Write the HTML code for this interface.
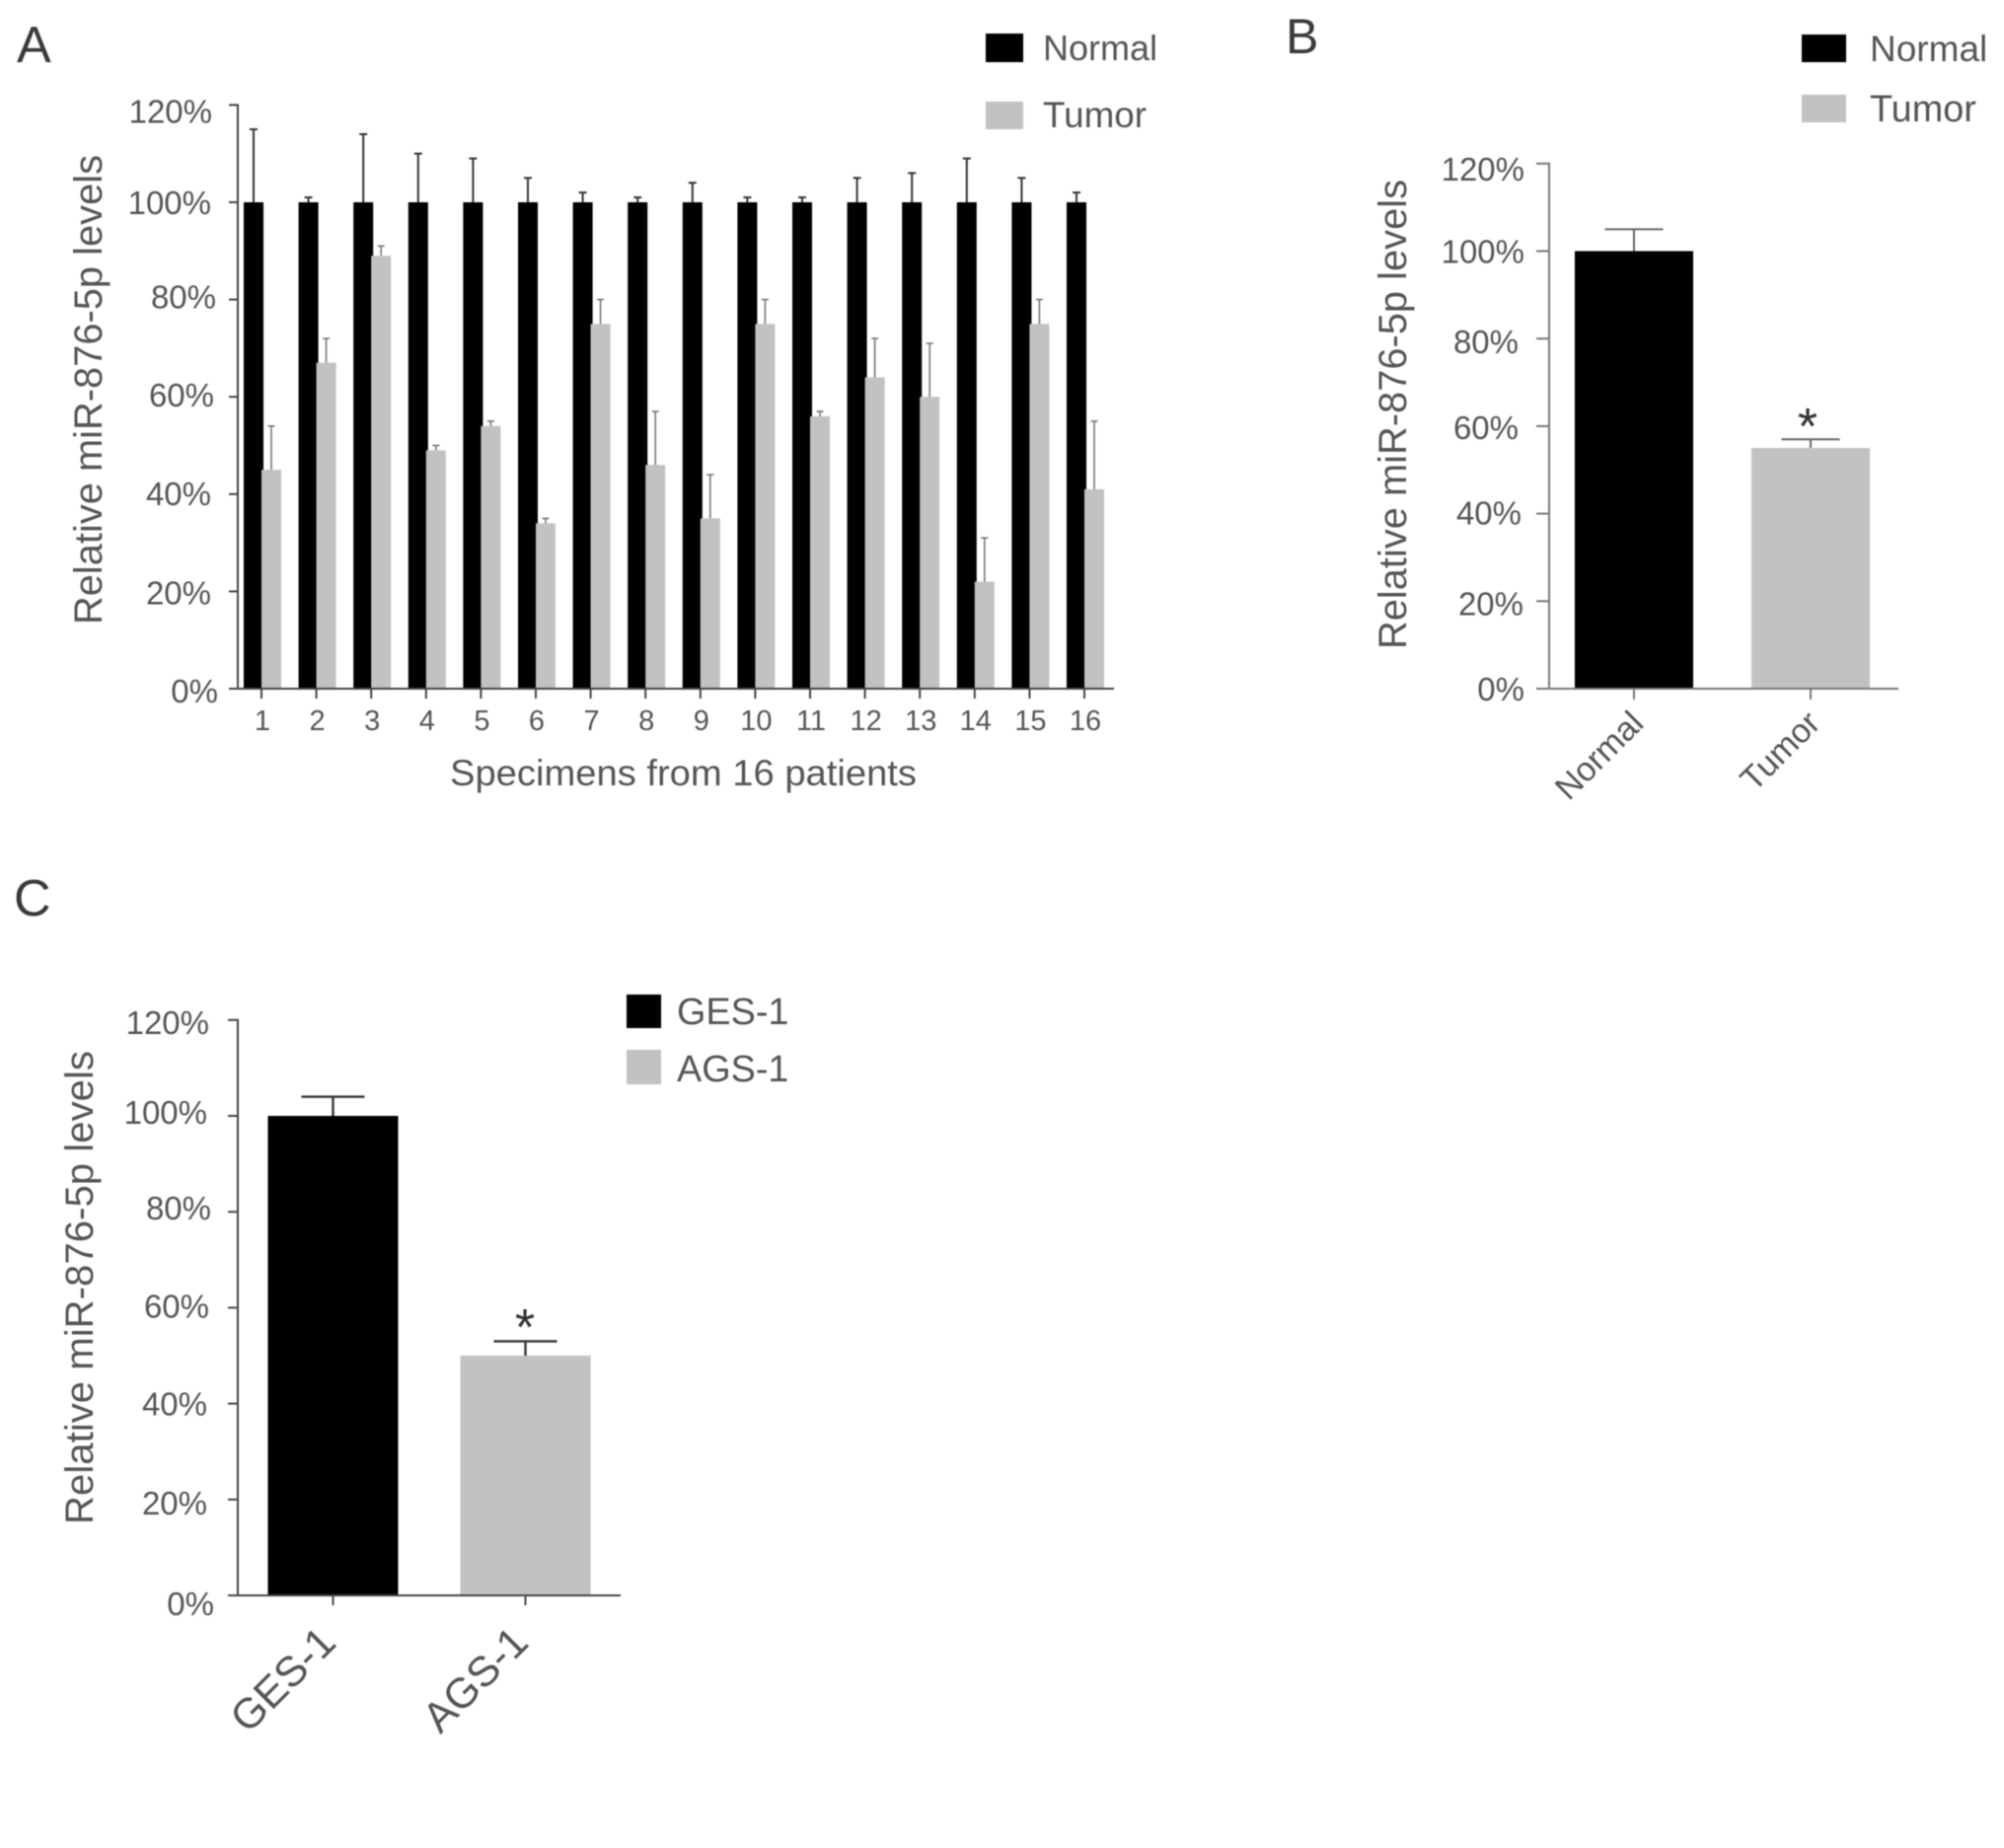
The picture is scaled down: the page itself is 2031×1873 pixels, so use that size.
<!DOCTYPE html>
<html lang="en">
<head>
<meta charset="utf-8">
<title>Relative miR-876-5p levels</title>
<style>
  html, body { margin: 0; padding: 0; background: #fff; width: 2031px; height: 1873px; overflow: hidden; }
  svg { display: block; filter: blur(0.6px); }
  text { font-family: "Liberation Sans", sans-serif; fill: #555; }
</style>
</head>
<body>
<svg id="figure" xmlns="http://www.w3.org/2000/svg" width="2031" height="1873" viewBox="0 0 2031 1873">
  <rect x="0" y="0" width="2031" height="1873" fill="#fff"/>

  <text x="17" y="63" font-size="52" style="fill:#3a3a3a">A</text>
  <text x="1303" y="54" font-size="50" style="fill:#3a3a3a">B</text>
  <text x="14" y="928" font-size="52" style="fill:#3a3a3a">C</text>

  <g id="panel-a">
    <text transform="translate(103,395) rotate(-90)" text-anchor="middle" font-size="39.8" textLength="476" lengthAdjust="spacingAndGlyphs">Relative miR-876-5p levels</text>
    <text x="456" y="796" font-size="37" textLength="473" lengthAdjust="spacingAndGlyphs">Specimens from 16 patients</text>
    <rect x="999" y="34" width="38" height="29" fill="#000"/>
    <text x="1057" y="61" font-size="36">Normal</text>
    <rect x="999" y="103" width="38" height="28" fill="#c2c2c2"/>
    <text x="1057" y="129" font-size="36.8">Tumor</text>
  </g>

  <g id="panel-b">
    <text transform="translate(1425,420) rotate(-90)" text-anchor="middle" font-size="39.8" textLength="476" lengthAdjust="spacingAndGlyphs">Relative miR-876-5p levels</text>
    <rect x="1826" y="35" width="45" height="28" fill="#000"/>
    <text x="1895" y="62" font-size="37">Normal</text>
    <rect x="1826" y="96" width="45" height="28" fill="#c2c2c2"/>
    <text x="1895" y="123" font-size="37.8">Tumor</text>
    <text x="1832" y="450" font-size="52" text-anchor="middle" style="fill:#333">*</text>
  </g>

  <g id="panel-c">
    <text transform="translate(94,1305) rotate(-90)" text-anchor="middle" font-size="40" textLength="480" lengthAdjust="spacingAndGlyphs">Relative miR-876-5p levels</text>
    <rect x="635" y="1008" width="35" height="34" fill="#000"/>
    <text x="686" y="1038" font-size="37.8">GES-1</text>
    <rect x="635" y="1064" width="35" height="35" fill="#c2c2c2"/>
    <text x="686" y="1096" font-size="37.8">AGS-1</text>
    <text x="532" y="1363" font-size="52" text-anchor="middle" style="fill:#333">*</text>
  </g>
</svg>

<script>
// Shared y-axis ticks
const yTickValues = [0, 20, 40, 60, 80, 100, 120];
const yTickLabels = ["0%", "20%", "40%", "60%", "80%", "100%", "120%"];

// Panel A
const aCategories = ["1","2","3","4","5","6","7","8","9","10","11","12","13","14","15","16"];
const aNormal = [100,100,100,100,100,100,100,100,100,100,100,100,100,100,100,100];
const aNormalErrTop = [115,101,114,110,109,105,102,101,104,101,101,105,106,109,105,102];
const aTumor = [45,67,89,49,54,34,75,46,35,75,56,64,60,22,75,41];
const aTumorErrTop = [54,72,91,50,55,35,80,57,44,80,57,72,71,31,80,55];

// Panel B
const bCategories = ["Normal", "Tumor"];
const bValues = [100, 55];
const bErrTop = [105, 57];

// Panel C
const cCategories = ["GES-1", "AGS-1"];
const cValues = [100, 50];
const cErrTop = [104, 53];

const NS = "http://www.w3.org/2000/svg";

function mk(parent, tag, attrs, content) {
  const el = document.createElementNS(NS, tag);
  for (const k in attrs) el.setAttribute(k, attrs[k]);
  if (content !== undefined) el.textContent = content;
  parent.appendChild(el);
  return el;
}

function drawAxes(g, cfg) {
  const yLine = mk(g, "line", { x1: cfg.axisX, x2: cfg.axisX, y1: cfg.y(120) - 1, y2: cfg.y(0) + 1, stroke: cfg.axisColor, "stroke-width": 2 });
  
  
  const xLine = mk(g, "line", { x1: cfg.tickLeft, x2: cfg.axisEnd, y1: cfg.y(0), y2: cfg.y(0), stroke: cfg.axisColor, "stroke-width": 2 });
  
  
  yTickValues.forEach(function (v, i) {
    const tick = mk(g, "line", { x1: cfg.tickLeft, x2: cfg.axisX, y1: cfg.y(v), y2: cfg.y(v), stroke: cfg.axisColor, "stroke-width": 2 });
    
    
    const label = mk(g, "text", { x: cfg.labelRight(i), y: cfg.y(v) + cfg.labelDy(i), "text-anchor": "end", "font-size": 33 }, yTickLabels[i]);
    
    
  });
}

function drawErr(g, cx, top, base, capW, color, width) {
  const stem = mk(g, "line", { x1: cx, x2: cx, y1: top, y2: base, stroke: color, "stroke-width": width });
  
  
  const cap = mk(g, "line", { x1: cx - capW / 2, x2: cx + capW / 2, y1: top, y2: top, stroke: color, "stroke-width": width });
  
  
}

// Panel A drawing
(function () {
  const g = document.getElementById("panel-a");
  const y = function (v) { return 698 - v * 4.93; };
  const x = function (i) { return 265 + i * 55.6; };
  aCategories.forEach(function (cat, i) {
    const black = mk(g, "rect", { x: x(i) - 18, y: y(aNormal[i]), width: 20, height: y(0) - y(aNormal[i]), fill: "#000" });
    
    
    drawErr(g, x(i) - 8, y(aNormalErrTop[i]), y(aNormal[i]), 8, "#333", 2);
    const gray = mk(g, "rect", { x: x(i), y: y(aTumor[i]), width: 20, height: y(0) - y(aTumor[i]), fill: "#c2c2c2" });
    
    
    drawErr(g, x(i) + 10, y(aTumorErrTop[i]), y(aTumor[i]), 7, "#777", 1.6);
    const tick = mk(g, "line", { x1: x(i), x2: x(i), y1: y(0), y2: 708, stroke: "#444", "stroke-width": 2 });
    
    
    const label = mk(g, "text", { x: x(i) + 1, y: 740, "text-anchor": "middle", "font-size": 29 }, cat);
    
    
  });
  const dyA = function (i) { return [14, 13, 11, 10, 9, 12, 18][i]; };
  const rightA = function (i) { return [221, 214, 214, 217, 219, 214, 215][i]; };
  drawAxes(g, { y: y, axisX: 241, tickLeft: 232, axisEnd: 1129, axisColor: "#444", labelRight: rightA, labelDy: dyA });
})();

// Panel B drawing
(function () {
  const g = document.getElementById("panel-b");
  const y = function (v) { return 698 - v * 4.435; };
  const x = function (i) { return 1656 + i * 179; };
  const fills = ["#000", "#c2c2c2"];
  bCategories.forEach(function (cat, i) {
    drawErr(g, x(i), y(bErrTop[i]), y(bValues[i]), 59, "#666", 2);
    const bar = mk(g, "rect", { x: x(i) - 60, y: y(bValues[i]), width: 120, height: y(0) - y(bValues[i]), fill: fills[i] });
    
    
    const tick = mk(g, "line", { x1: x(i), x2: x(i), y1: y(0), y2: 709, stroke: "#777", "stroke-width": 2 });
    
    
    const label = mk(g, "text", { transform: "translate(" + (x(i) + 11.5) + ",735) rotate(-45)", "text-anchor": "end", "font-size": 34 }, cat);
    
    
  });
  const dyB = function (i) { return [12, 14, 11, 13, 15, 12, 17][i]; };
  const rightB = function (i) { return [1545, 1544, 1542, 1539, 1539, 1545, 1545][i]; };
  drawAxes(g, { y: y, axisX: 1570, tickLeft: 1557, axisEnd: 1924, axisColor: "#777", labelRight: rightB, labelDy: dyB });
})();

// Panel C drawing
(function () {
  const g = document.getElementById("panel-c");
  const y = function (v) { return 1617 - v * 4.86; };
  const x = function (i) { return 337.5 + i * 195; };
  const fills = ["#000", "#c2c2c2"];
  cCategories.forEach(function (cat, i) {
    drawErr(g, x(i), y(cErrTop[i]), y(cValues[i]), 64, "#333", 2.4);
    const bar = mk(g, "rect", { x: x(i) - 66, y: y(cValues[i]), width: 132, height: y(0) - y(cValues[i]), fill: fills[i] });
    
    
    const tick = mk(g, "line", { x1: x(i), x2: x(i), y1: y(0), y2: 1627, stroke: "#444", "stroke-width": 2 });
    
    
    const label = mk(g, "text", { transform: "translate(" + (x(i) + 5) + ",1667) rotate(-45)", "text-anchor": "end", "font-size": 43 }, cat);
    
    
  });
  const dyC = function (i) { return [20, 15, 12, 10, 8, 8, 14][i]; };
  const rightC = function (i) { return [217, 210, 210, 212, 214, 210, 212][i]; };
  drawAxes(g, { y: y, axisX: 241, tickLeft: 231, axisEnd: 629, axisColor: "#444", labelRight: rightC, labelDy: dyC });
})();
</script>
</body>
</html>
